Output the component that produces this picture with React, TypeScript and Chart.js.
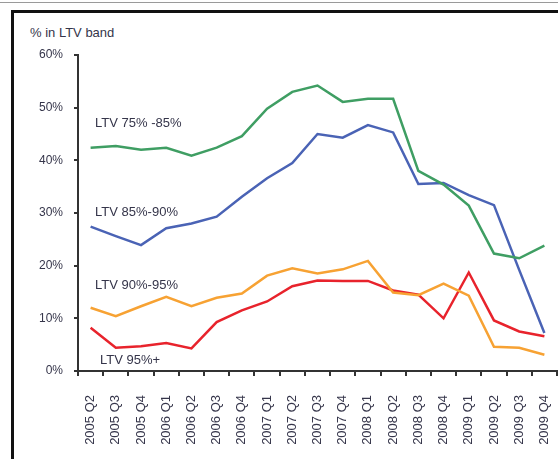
import React, { useEffect, useRef } from 'react';
import { Chart, registerables } from 'chart.js';

Chart.register(...registerables);

const categories = [
  '2005 Q2', '2005 Q3', '2005 Q4',
  '2006 Q1', '2006 Q2', '2006 Q3', '2006 Q4',
  '2007 Q1', '2007 Q2', '2007 Q3', '2007 Q4',
  '2008 Q1', '2008 Q2', '2008 Q3', '2008 Q4',
  '2009 Q1', '2009 Q2', '2009 Q3', '2009 Q4',
];

const ltv75to85 = [42.4, 42.7, 42.0, 42.4, 40.9, 42.4, 44.6, 49.8, 53.0, 54.2, 51.1, 51.7, 51.7, 38.0, 35.4, 31.4, 22.3, 21.4, 23.8];
const ltv85to90 = [27.4, 25.6, 23.9, 27.1, 28.0, 29.3, 33.1, 36.6, 39.5, 45.0, 44.3, 46.7, 45.3, 35.5, 35.7, 33.4, 31.5, 19.2, 7.2];
const ltv90to95 = [12.0, 10.4, 12.3, 14.1, 12.3, 13.9, 14.7, 18.1, 19.5, 18.5, 19.3, 20.9, 14.9, 14.4, 16.6, 14.3, 4.6, 4.4, 3.1];
const ltv95plus = [8.2, 4.4, 4.7, 5.3, 4.3, 9.3, 11.5, 13.2, 16.1, 17.2, 17.1, 17.1, 15.3, 14.5, 10.0, 18.7, 9.6, 7.5, 6.6];

const seriesNames = ['LTV 75% -85%', 'LTV 85%-90%', 'LTV 90%-95%', 'LTV 95%+'];
const seriesColors = ['#3f9e63', '#4a63b5', '#f7a233', '#e8232c'];
const labelValues = [47.1, 30.2, 16.3, 2.0];

const yMin = 0;
const yMax = 60;
const yStep = 10;
const yTitle = '% in LTV band';

const TEXT = '#35354a';
const AXIS = '#333333';

const seriesLabelPlugin = {
  id: 'seriesLabels',
  afterDatasetsDraw(chart: any) {
    const { ctx, scales } = chart;
    const xs = scales.x;
    const ys = scales.y;
    ctx.save();
    ctx.font = '13px "Liberation Sans", Arial, sans-serif';
    ctx.fillStyle = TEXT;
    ctx.textAlign = 'left';
    ctx.textBaseline = 'middle';
    seriesNames.forEach((name, i) => {
      const x = xs.getPixelForValue(0) + (i === 3 ? 9.5 : 4.5);
      const y = ys.getPixelForValue(labelValues[i]);
      ctx.fillText(name, x, y);
    });
    ctx.restore();
  },
};

function LtvChart() {
  const ref = useRef<HTMLCanvasElement>(null);
  useEffect(() => {
    if (!ref.current) return;
    const series = [ltv75to85, ltv85to90, ltv90to95, ltv95plus];
    const chart = new Chart(ref.current, {
      type: 'line',
      data: {
        labels: categories,
        datasets: series.map((d, i) => ({
          label: seriesNames[i],
          data: d,
          borderColor: seriesColors[i],
          backgroundColor: seriesColors[i],
          borderWidth: 2.5,
          pointRadius: 0,
          tension: 0,
          fill: false,
        })),
      },
      options: {
        responsive: false,
        animation: false,
        devicePixelRatio: 1,
        layout: { padding: { top: 55, right: 1, left: 0, bottom: 0 } },
        plugins: {
          legend: { display: false },
          tooltip: { enabled: false },
          title: { display: false },
        },
        scales: {
          x: {
            type: 'category',
            offset: true,
            grid: {
              offset: true,
              drawOnChartArea: false,
              drawTicks: true,
              tickLength: 5,
              color: AXIS,
              lineWidth: 2,
            },
            border: { display: true, color: AXIS, width: 2 },
            ticks: {
              autoSkip: false,
              maxRotation: 90,
              minRotation: 90,
              padding: 19,
              color: TEXT,
              font: { family: '"Liberation Sans", Arial, sans-serif', size: 13 },
            },
            afterFit(s: any) {
              s.height = 88;
              s.paddingLeft = 0;
              s.paddingRight = 0;
            },
          },
          y: {
            min: yMin,
            max: yMax,
            grid: {
              drawOnChartArea: false,
              drawTicks: true,
              tickLength: 4,
              color: AXIS,
              lineWidth: 2,
            },
            border: { display: true, color: AXIS, width: 2 },
            ticks: {
              stepSize: yStep,
              padding: 11,
              color: TEXT,
              font: { family: '"Liberation Sans", Arial, sans-serif', size: 12 },
              callback: (v: any) => v + '%',
            },
            afterFit(s: any) {
              s.width = 78;
            },
          },
        },
      },
      plugins: [seriesLabelPlugin],
    });
    return () => chart.destroy();
  }, []);
  return <canvas ref={ref} width={558} height={459} style={{ position: 'absolute', left: 0, top: 0, width: 558, height: 459 }} />;
}

export default function App() {
  return (
    <div style={{ position: 'fixed', left: 0, top: 0, width: 558, height: 459, overflow: 'hidden', background: '#fff' }}>
      <div style={{ position: 'absolute', left: 0, top: 2, width: 558, height: 1, background: '#9a9a9a' }} />
      <div style={{ position: 'absolute', left: 11, top: 10, width: 600, height: 500, borderTop: '3px solid #111', borderLeft: '3px solid #111' }} />
      <div style={{ position: 'absolute', left: 30, top: 25, font: '13px "Liberation Sans", Arial, sans-serif', color: TEXT, whiteSpace: 'nowrap' }}>{yTitle}</div>
      <LtvChart />
    </div>
  );
}
